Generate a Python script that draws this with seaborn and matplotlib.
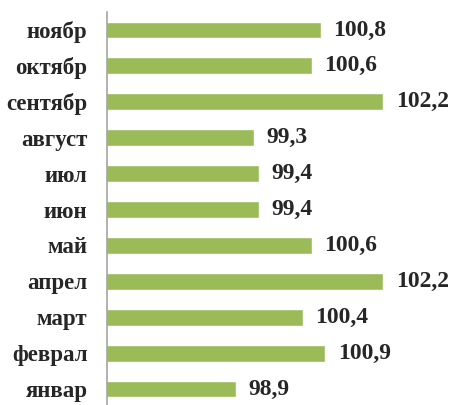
import matplotlib
matplotlib.use("Agg")
import matplotlib.pyplot as plt
import seaborn as sns
import pandas as pd

# Данные по месяцам (индекс, %)
mesyatsy = ["январ", "феврал", "март", "апрел", "май", "июн",
            "июл", "август", "сентябр", "октябр", "ноябр"]
znacheniya = [98.9, 100.9, 100.4, 102.2, 100.6, 99.4,
              99.4, 99.3, 102.2, 100.6, 100.8]

df = pd.DataFrame({"Месяц": mesyatsy, "Значение": znacheniya})
poryadok = mesyatsy[::-1]  # ноябр сверху

sns.set_style("white")
plt.rcParams["font.family"] = ["Liberation Serif", "DejaVu Serif"]

fig = plt.figure(figsize=(4.55, 4.05), dpi=100)
ax = fig.add_axes([107 / 455, -2 / 405, 312 / 455, 395 / 405])

sns.barplot(data=df, y="Месяц", x="Значение", order=poryadok,
            color="#9BBB59", saturation=1, width=0.47, ax=ax)

ax.set_xlim(96, 103)
ax.set_xlabel("")
ax.set_ylabel("")
ax.set_xticks([])
ax.tick_params(axis="y", length=0, pad=14)
for lbl in ax.get_yticklabels():
    lbl.set_fontsize(16.5)
    lbl.set_fontweight("bold")

for s in ["top", "right", "bottom"]:
    ax.spines[s].set_visible(False)
ax.spines["left"].set_color("#A6A6A6")
ax.spines["left"].set_linewidth(1.2)

# подписи значений
for i, m in enumerate(poryadok):
    v = df.loc[df["Месяц"] == m, "Значение"].iloc[0]
    ax.text(v + 0.28, i, f"{v:.1f}".replace(".", ","), va="center", ha="left",
            fontsize=17, fontweight="bold", clip_on=False)

fig.savefig("out.png", dpi=100)
